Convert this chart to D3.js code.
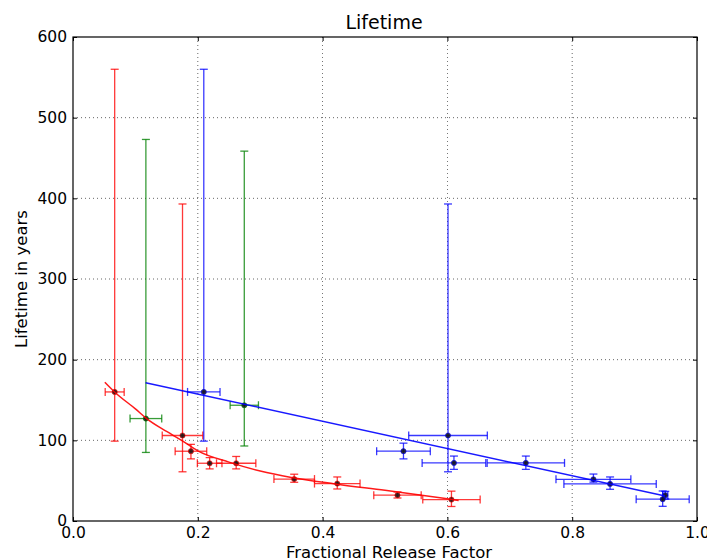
<!DOCTYPE html>
<html>
<head>
<meta charset="utf-8">
<script src="https://cdn.jsdelivr.net/npm/d3@7"></script>
<style>
body { margin: 0; background: #fff; }
text { font-family: "DejaVu Sans", sans-serif; }
</style>
</head>
<body>
<div class="chart"></div>
<script>
// red series
var redX = [0.0668, 0.1755, 0.189, 0.219, 0.2615, 0.3545, 0.4235, 0.52, 0.6065];
var redY = [160, 106, 86.5, 71.6, 71.6, 52, 46.4, 32, 26.5];
var redXErr = [0.0152, 0.0325, 0.0253, 0.0197, 0.0315, 0.0325, 0.0365, 0.038, 0.046];
var redYLo = [61, 45, 9.5, 7, 7, 4, 6.7, 3.5, 8.5];
var redYHi = [400, 287, 8.5, 7, 8.4, 6, 8.2, 4, 10.5];

// blue series
var blueX = [0.2096, 0.601, 0.5296, 0.6105, 0.7257, 0.834, 0.8607, 0.9492, 0.945];
var blueY = [160, 106, 86.5, 72, 72, 51.7, 46, 32, 27];
var blueXErr = [0.026, 0.063, 0.043, 0.051, 0.062, 0.06, 0.074, 0.004, 0.0425];
var blueYLo = [61, 45, 9.5, 8, 8, 3.5, 6.7, 4.8, 8.8];
var blueYHi = [400, 287, 10, 8.5, 8.5, 6.5, 8.6, 4.8, 10.2];

// green series
var greenX = [0.1168, 0.2745];
var greenY = [127, 143.5];
var greenXErr = [0.0254, 0.0227];
var greenYLo = [42, 50.5];
var greenYHi = [346, 315];

// fitted curves
var fitRedX = [0.051, 0.0666, 0.1, 0.118, 0.15, 0.174, 0.2, 0.25, 0.3, 0.35, 0.42, 0.5, 0.6, 0.618];
var fitRedY = [172, 160, 139, 127, 111, 100, 87, 73, 62, 54, 46, 38, 27.5, 25.5];
var fitBlueX = [0.1163, 0.949];
var fitBlueY = [171.5, 31];

var xTicks = [0, 0.2, 0.4, 0.6, 0.8, 1.0];
var yTicks = [0, 100, 200, 300, 400, 500, 600];

var width = 707, height = 560;
var plotLeft = 73, plotRight = 697, plotTop = 37, plotBottom = 521;

var x = d3.scaleLinear().domain([0, 1]).range([plotLeft, plotRight]);
var y = d3.scaleLinear().domain([0, 600]).range([plotBottom, plotTop]);

var svg = d3.select(".chart").append("svg")
    .attr("width", width)
    .attr("height", height);

// grid
var grid = svg.append("g");
grid.selectAll(".gx").data(xTicks.slice(1, -1)).enter().append("line")
    .attr("x1", function(d){ return x(d); })
    .attr("x2", function(d){ return x(d); })
    .attr("y1", plotTop).attr("y2", plotBottom)
    .attr("stroke", "#000").attr("stroke-width", 0.8)
    .attr("stroke-dasharray", "1,3").attr("opacity", 0.75);
grid.selectAll(".gy").data(yTicks.slice(1, -1)).enter().append("line")
    .attr("y1", function(d){ return y(d); })
    .attr("y2", function(d){ return y(d); })
    .attr("x1", plotLeft).attr("x2", plotRight)
    .attr("stroke", "#000").attr("stroke-width", 0.8)
    .attr("stroke-dasharray", "1,3").attr("opacity", 0.75);

// axes, ticks inside
var fontSize = "15.5px";
svg.append("g").attr("transform", "translate(0," + plotBottom + ")")
    .call(d3.axisBottom(x).tickValues(xTicks).tickFormat(d3.format(".1f"))
        .tickSizeInner(-4).tickSizeOuter(0).tickPadding(6))
    .call(function(g){ g.select(".domain").remove(); })
    .selectAll("text").attr("font-size", fontSize).attr("fill", "#000")
    .style("font-family", "DejaVu Sans");
svg.append("g").attr("transform", "translate(" + plotLeft + ",0)")
    .call(d3.axisLeft(y).tickValues(yTicks)
        .tickSizeInner(-4).tickSizeOuter(0).tickPadding(6))
    .call(function(g){ g.select(".domain").remove(); })
    .selectAll("text").attr("font-size", fontSize).attr("fill", "#000")
    .style("font-family", "DejaVu Sans");
svg.append("g").attr("transform", "translate(0," + plotTop + ")")
    .call(d3.axisTop(x).tickValues(xTicks).tickFormat("").tickSizeInner(-4).tickSizeOuter(0))
    .call(function(g){ g.select(".domain").remove(); });
svg.append("g").attr("transform", "translate(" + plotRight + ",0)")
    .call(d3.axisRight(y).tickValues(yTicks).tickFormat("").tickSizeInner(-4).tickSizeOuter(0))
    .call(function(g){ g.select(".domain").remove(); });

function errorbars(xs, ys, xerr, ylo, yhi, color) {
    var g = svg.append("g")
        .attr("stroke", color).attr("stroke-width", 1.3)
        .attr("stroke-opacity", 0.78).attr("fill", "none");
    var cap = 4;
    xs.forEach(function(v, i){
        var cx = x(v), cy = y(ys[i]);
        var y0 = y(ys[i] - ylo[i]), y1 = y(ys[i] + yhi[i]);
        var x0 = x(v - xerr[i]), x1 = x(v + xerr[i]);
        g.append("line").attr("x1", cx).attr("x2", cx).attr("y1", y0).attr("y2", y1);
        g.append("line").attr("x1", cx - cap).attr("x2", cx + cap).attr("y1", y0).attr("y2", y0);
        g.append("line").attr("x1", cx - cap).attr("x2", cx + cap).attr("y1", y1).attr("y2", y1);
        g.append("line").attr("x1", x0).attr("x2", x1).attr("y1", cy).attr("y2", cy);
        g.append("line").attr("x1", x0).attr("x2", x0).attr("y1", cy - cap).attr("y2", cy + cap);
        g.append("line").attr("x1", x1).attr("x2", x1).attr("y1", cy - cap).attr("y2", cy + cap);
    });
    svg.append("g").selectAll("circle").data(xs).enter().append("circle")
        .attr("cx", function(d){ return x(d); })
        .attr("cy", function(d, i){ return y(ys[i]); })
        .attr("r", 2.6)
        .attr("fill", "#111").attr("fill-opacity", 0.85)
        .attr("stroke", color).attr("stroke-width", 0.6);
}

errorbars(redX, redY, redXErr, redYLo, redYHi, "#ff0000");
errorbars(greenX, greenY, greenXErr, greenYLo, greenYHi, "#008000");
errorbars(blueX, blueY, blueXErr, blueYLo, blueYHi, "#0000ff");

var line = d3.line()
    .x(function(d){ return x(d[0]); })
    .y(function(d){ return y(d[1]); });

svg.append("path")
    .datum(fitRedX.map(function(v, i){ return [v, fitRedY[i]]; }))
    .attr("d", line.curve(d3.curveMonotoneX))
    .attr("fill", "none").attr("stroke", "#ff0000").attr("stroke-width", 1.5)
    .attr("stroke-opacity", 0.9);
svg.append("path")
    .datum(fitBlueX.map(function(v, i){ return [v, fitBlueY[i]]; }))
    .attr("d", line.curve(d3.curveLinear))
    .attr("fill", "none").attr("stroke", "#0000ff").attr("stroke-width", 1.5)
    .attr("stroke-opacity", 0.9);

// frame
svg.append("rect")
    .attr("x", plotLeft).attr("y", plotTop)
    .attr("width", plotRight - plotLeft).attr("height", plotBottom - plotTop)
    .attr("fill", "none").attr("stroke", "#000").attr("stroke-width", 1.2);

// labels
svg.append("text").attr("x", 384).attr("y", 29)
    .attr("text-anchor", "middle").attr("font-size", "19px").text("Lifetime");
svg.append("text").attr("x", 389).attr("y", 558)
    .attr("text-anchor", "middle").attr("font-size", "16.5px").text("Fractional Release Factor");
svg.append("text")
    .attr("transform", "translate(27," + ((plotTop + plotBottom) / 2) + ") rotate(-90)")
    .attr("text-anchor", "middle").attr("font-size", "16.5px").text("Lifetime in years");
</script>
</body>
</html>
